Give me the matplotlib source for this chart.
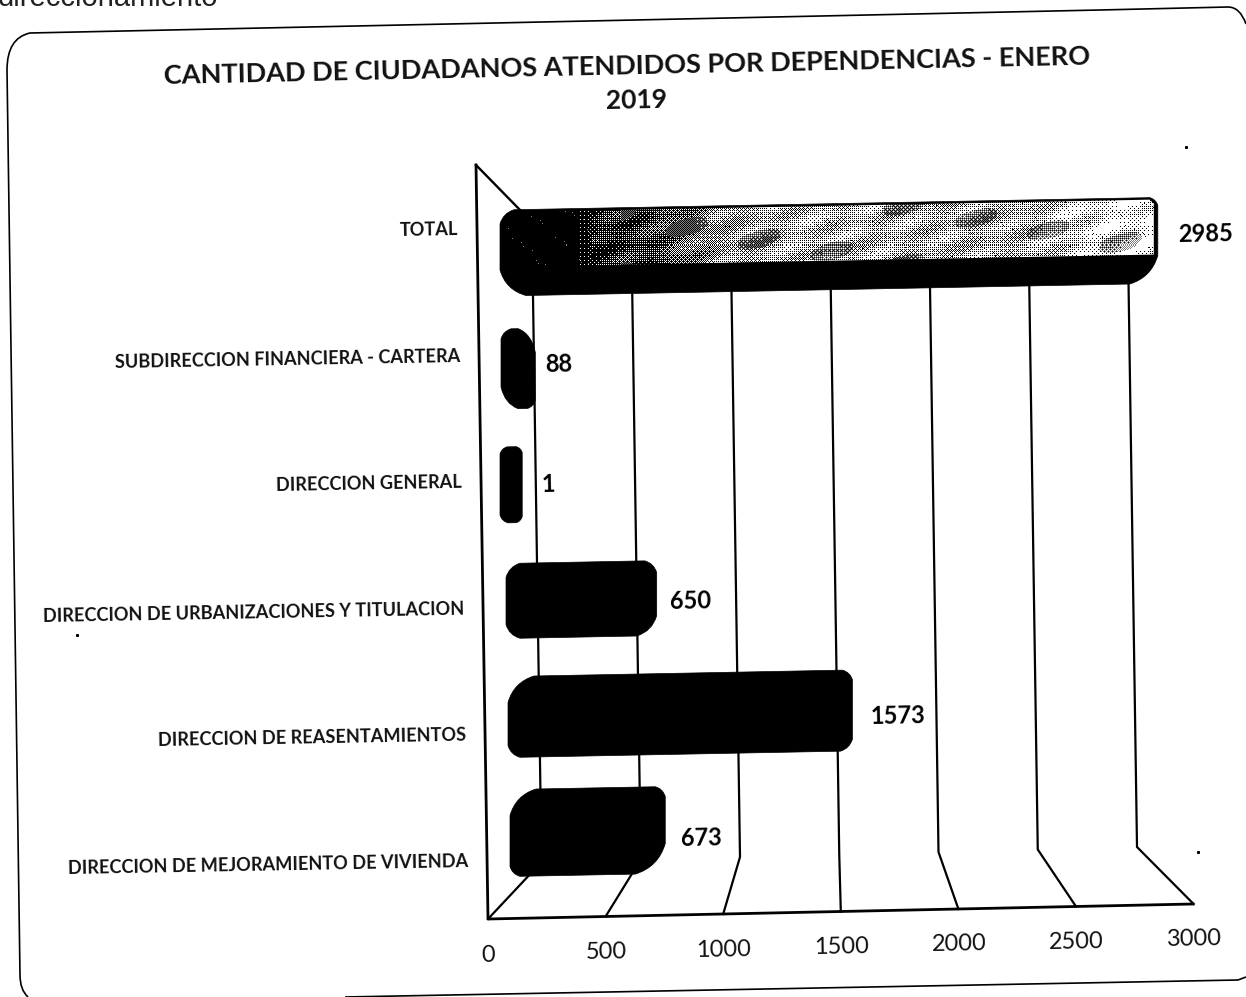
import numpy as np
import matplotlib
matplotlib.use('Agg')
import matplotlib.pyplot as plt
from matplotlib.path import Path
from matplotlib.patches import PathPatch

plt.rcParams['font.family'] = ['Lato', 'DejaVu Sans']

# data, first row is the one at the bottom of the chart
categories = ['DIRECCION DE MEJORAMIENTO DE VIVIENDA', 'DIRECCION DE REASENTAMIENTOS',
              'DIRECCION DE URBANIZACIONES Y TITULACION', 'DIRECCION GENERAL',
              'SUBDIRECCION FINANCIERA - CARTERA', 'TOTAL']
values = [673, 1573, 650, 1, 88, 2985]
x_ticks = [0, 500, 1000, 1500, 2000, 2500, 3000]

# look of each bar, same order as the data
bar_heights = [87, 81, 75, 76, 80, 86]
bar_lefts = [510, 508, 506, 500, 501, 500]
bar_scale = [0.198, 0.205, 0.198, 0.2, 0.14, 0.213]
# corner cuts: top left, top right, bottom right, bottom left
bar_corners = [(26, 10, 30, 10), (26, 10, 12, 12), (14, 12, 20, 14), (7, 6, 6, 8), (10, 24, 8, 22), (14, 8, 28, 26)]
label_pad = [16, 18, 13, 19, 10, 20]
label_dy = [7, 5, 2, -1, -5, -7]

SLOPE = -0.019   # the scan is a bit crooked
FLAT = 0.45      # how straight the corner cuts are


def row_y(i):
    return 833 - 116 * i


def label_y(i):
    return 862 - 126.5 * i


def floor_pt(t):
    return 488 + 0.2352 * t, 919 - 0.005 * t


def back_pt(t):
    return 541.5 + 0.1985 * t, 862 - 0.005 * t


def top_pt(t):
    return 532.3 + 0.1985 * t, 250 - 0.005 * t


def corner(a, c, b):
    # control point of a corner, pulled towards the cut
    return (c[0] * (1 - FLAT) + (a[0] + b[0]) / 2 * FLAT, c[1] * (1 - FLAT) + (a[1] + b[1]) / 2 * FLAT)


def bar_path(i):
    x0 = bar_lefts[i]
    w = 22 + bar_scale[i] * values[i]
    h = bar_heights[i]
    tl, tr, br, bl = bar_corners[i]
    yc = row_y(i)

    def p(dx, dy):
        return x0 + dx, yc + dy + dx * SLOPE

    # corners are a bit wider along x than along y on the narrow bars
    a1, c1, b1 = p(0, -h / 2 + tl), p(0, -h / 2), p(min(tl, w / 2), -h / 2)
    a2, c2, b2 = p(w - min(tr, w / 2), -h / 2), p(w, -h / 2), p(w, -h / 2 + tr)
    a3, c3, b3 = p(w, h / 2 - br), p(w, h / 2), p(w - min(br, w / 2), h / 2)
    a4, c4, b4 = p(min(bl, w / 2), h / 2), p(0, h / 2), p(0, h / 2 - bl)
    verts = [a1, corner(a1, c1, b1), b1, a2, corner(a2, c2, b2), b2,
             a3, corner(a3, c3, b3), b3, a4, corner(a4, c4, b4), b4, a1]
    codes = [Path.MOVETO, Path.CURVE3, Path.CURVE3, Path.LINETO, Path.CURVE3, Path.CURVE3,
             Path.LINETO, Path.CURVE3, Path.CURVE3, Path.LINETO, Path.CURVE3, Path.CURVE3, Path.LINETO]
    return Path(verts, codes), x0 + w, yc + (w * SLOPE)


fig = plt.figure(figsize=(12.46, 9.97), dpi=100)
ax = fig.add_axes([0, 0, 1, 1])
ax.set_xlim(0, 1246)
ax.set_ylim(997, 0)
ax.axis('off')

# the frame of the pasted chart
fv = [(1246, 977), (1238, 980), (345, 997)]
fc = [Path.MOVETO, Path.LINETO, Path.LINETO]
ax.add_patch(PathPatch(Path(fv, fc), fc='none', ec='black', lw=1.2))
fv = [(28, 997), (20, 990), (20, 975), (7, 70), (7, 38), (30, 33), (1100, 10), (1228, 7), (1240, 7), (1246, 24)]
fc = [Path.MOVETO, Path.CURVE3, Path.CURVE3, Path.LINETO, Path.CURVE3, Path.CURVE3, Path.LINETO, Path.LINETO,
      Path.CURVE3, Path.CURVE3]
ax.add_patch(PathPatch(Path(fv, fc), fc='none', ec='black', lw=1.2))

# dust from the scanner
ax.plot([1186, 1198, 77], [147, 852, 635], ls='none', marker='s', ms=1.2, color='black')

# walls and grid
ax.plot([476, 488, 1193], [165, 919, 904], color='black', lw=2, zorder=2)
ax.plot([476, 522], [165, 212], color='black', lw=1.7, zorder=2)
for t in x_ticks:
    a, b, c = top_pt(t), back_pt(t), floor_pt(t)
    ax.plot([a[0], b[0], c[0]], [a[1], b[1], c[1]], color='black', lw=1.6, zorder=2)
    ax.text(c[0] + 0.3, 955 - 0.0053 * t, str(t), fontsize=17, ha='center', va='center',
            rotation=1.0, rotation_mode='anchor', color='#111111')

# bars
for i, v in enumerate(values):
    path, xr, yr = bar_path(i)
    ax.add_patch(PathPatch(path, fc='black', ec='black', lw=0.5, zorder=3))
    ax.text(xr + label_pad[i], yr + 1 + label_dy[i], str(v), fontsize=17, fontweight='bold', ha='left',
            va='center', rotation=1.0, rotation_mode='anchor', zorder=5)
    ax.text(458 + (5 - i) * 2, label_y(i), categories[i], fontsize=13.05, fontweight='bold', ha='right',
            va='center', rotation=1.0, rotation_mode='anchor', color='#111111')

# the TOTAL bar is shaded, black to pale, and the scan turned it into halftone
bayer = np.array([[0, 8, 2, 10], [12, 4, 14, 6], [3, 11, 1, 9], [15, 7, 13, 5]]) / 16 + 1 / 32
img_x = np.arange(495, 1165)
img_y = np.arange(190, 300)
stops_x = [500, 575, 600, 650, 690, 720, 800, 1020, 1060, 1150]
stops_v = [0.01, 0.02, 0.18, 0.25, 0.45, 0.6, 0.72, 0.68, 0.8, 0.92]
xx, yy = np.meshgrid(img_x, img_y)
mottle = np.sin(xx / 11.0 + yy / 5.0) * np.sin(xx / 29.0 - yy / 13.0)
specks = np.sin(xx * 1.7 + yy * 0.9) * np.sin(xx * 0.31 - yy * 2.3) > 0.985
shade = np.interp(xx, stops_x, stops_v) + 0.16 * mottle * (xx > 590)
halftone = (shade > bayer[yy % 4, xx % 4]).astype(float)
halftone[specks & (xx < 590)] = 0.5
halftone[specks & (xx > 800)] = 0
patches = np.sin(xx / 23.0) * np.sin(yy / 9.0 + xx / 40.0) > 0.6
halftone[patches & (xx > 620) & ((xx + yy) % 2 == 0)] = 0.5
im = ax.imshow(halftone, cmap='gray', vmin=0, vmax=1, extent=(495, 1165, 300, 190), interpolation='nearest',
               zorder=4, aspect='auto')
ax.set_xlim(0, 1246)
ax.set_ylim(997, 0)
x0 = bar_lefts[5]
w = 22 + bar_scale[5] * values[5]
top = row_y(5) - bar_heights[5] / 2 + 2
lit = Path([(x0 + 4, top + 8), (x0 + 14, top), (x0 + w - 8, top + (w - 8) * SLOPE),
            (x0 + w - 4, top + (w - 4) * SLOPE + 4), (x0 + w - 4, top + 55 + (w - 4) * SLOPE),
            (x0 + 4, top + 55 + 4 * SLOPE), (x0 + 4, top + 8)])
clip = PathPatch(lit, transform=ax.transData, fc='none', ec='none')
ax.add_patch(clip)
im.set_clip_path(clip)

# title
ax.text(627, 66, 'CANTIDAD DE CIUDADANOS ATENDIDOS POR DEPENDENCIAS - ENERO', fontsize=19.5, fontweight='bold',
        ha='center', va='center', rotation=1.2, rotation_mode='anchor', color='#111111')
ax.text(636, 100, '2019', fontsize=19, fontweight='bold', ha='center', va='center', rotation=1.2,
        rotation_mode='anchor', color='#111111')

# line of the document above the pasted chart, cut by the scan
ax.text(-2, 6, 'direccionamiento', fontsize=21, family='Liberation Sans', ha='left', va='baseline',
        color='#222222')

fig.savefig('out.png', dpi=100)
